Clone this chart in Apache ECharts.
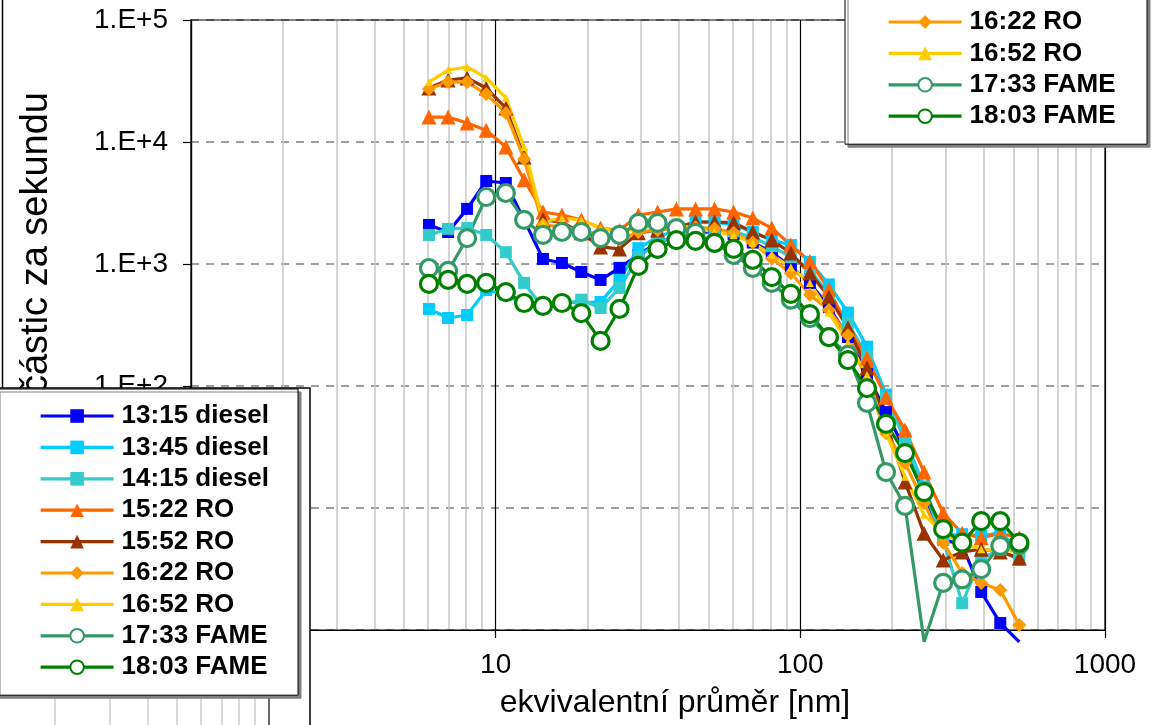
<!DOCTYPE html>
<html><head><meta charset="utf-8">
<script src="https://cdn.jsdelivr.net/npm/echarts@6/dist/echarts.min.js"></script>
<style>html,body{margin:0;padding:0;background:#fff}#c{width:1158px;height:725px}</style>
</head><body><div id="c"></div>
<script>
// ---- data ----
const diameters = [6.04, 6.98, 8.06, 9.31, 10.8, 12.4, 14.3, 16.5, 19.1, 22.1, 25.5, 29.4, 34.0, 39.2, 45.3, 52.3, 60.4, 69.8, 80.6, 93.1, 107.5, 124.1, 143.3, 165.5, 191.1, 220.7, 254.8, 294.3, 339.8, 392.4, 453.2, 523.3];
const seriesNames = ['13:15 diesel', '13:45 diesel', '14:15 diesel', '15:22 RO', '15:52 RO', '16:22 RO', '16:52 RO', '17:33 FAME', '18:03 FAME'];
const d1315 = [2090, 1830, 2830, 4790, 4610, 2300, 1100, 1020, 860, 740, 930, 1190, 1500, 1700, 1800, 1850, 1750, 1500, 1250, 944, 700, 445, 252, 125, 61, 30, 13, 5.5, 5.0, 2.05, 1.14, 0.8];
const d1345 = [428, 361, 382, 612, 560, 460, 445, 489, 480, 489, 740, 1350, 1660, 1900, 2210, 2200, 2100, 1830, 1570, 1430, 1040, 680, 400, 210, 85, 37, 15, 5.9, 6.1, 5.9, 6.3, 4.5];
const d1415 = [1730, 1940, 1970, 1730, 1250, 700, 436, 462, 510, 436, 636, 1140, 1500, 1700, 1850, 1900, 1850, 1650, 1400, 1140, 900, 560, 330, 175, 80, 36, 14, 5.5, 1.66, 3.9, 4.5, 3.75];
const d1522 = [16000, 16000, 14300, 12500, 9100, 4900, 2670, 2520, 2300, 1970, 1880, 2520, 2670, 2830, 2830, 2830, 2670, 2380, 1970, 1430, 1050, 620, 300, 170, 81, 43.5, 19.7, 9.1, 6.2, 5.7, 6.2, 5.7];
const d1552 = [27700, 32200, 33500, 27700, 19000, 7540, 2300, 2200, 1800, 1380, 1330, 1800, 1900, 2000, 2210, 2210, 2180, 1830, 1570, 1230, 843, 537, 299, 141, 50, 16.3, 6.2, 3.75, 4.36, 4.6, 4.36, 3.9];
const d1622 = [27200, 31000, 31000, 24700, 17300, 7260, 2100, 2000, 1900, 1730, 1570, 1830, 1900, 1950, 2000, 1950, 1800, 1500, 1110, 840, 560, 420, 260, 110, 41, 23.4, 11, 5.2, 2.93, 2.43, 2.13, 1.1];
const d1652 = [31000, 38900, 41200, 33500, 23000, 9100, 2210, 2380, 2300, 1970, 1830, 1970, 2070, 2070, 1970, 1830, 1730, 1490, 1190, 940, 700, 400, 227, 123, 41, 18, 8.8, 6.2, 5.2, 4.6, 4.4, 4.5];
const d1733 = [927, 877, 1630, 3540, 3820, 2300, 1730, 1830, 1830, 1630, 1730, 2170, 2170, 1970, 1800, 1490, 1190, 930, 700, 510, 360, 252, 180, 72.6, 19.7, 10.4, 0.8, 2.43, 2.6, 3.16, 4.9, 5.0];
const d1803 = [686, 740, 686, 700, 589, 479, 453, 479, 396, 234, 428, 964, 1330, 1570, 1550, 1490, 1330, 1080, 782, 568, 389, 252, 163, 96, 48.9, 28.2, 13.5, 6.7, 5.2, 7.8, 7.8, 5.2];
const xTitle = 'ekvivalentní průměr [nm]';
const yTitle = 'počet částic za sekundu';

// ---- styles ----
const values = [d1315, d1345, d1415, d1522, d1552, d1622, d1652, d1733, d1803];
const colors = ['#0000FF', '#00CCFF', '#33CCCC', '#FF6600', '#993300', '#FF9900', '#FFCC00', '#339966', '#008000'];
const symbols = ['rect', 'rect', 'rect', 'triangle', 'triangle', 'diamond', 'triangle', 'circle', 'circle'];
const sizes = [12, 12, 12, 15, 15, 14, 8, 17, 17];
const hollow = [false, false, false, false, false, false, false, true, true];
const LINE_W = 3.2;

const FONT = '"Liberation Sans", Arial, sans-serif';

const series = seriesNames.map((name, k) => ({
  type: 'line',
  name: name,
  data: diameters.map((x, i) => [x, values[k][i]]),
  symbol: symbols[k],
  symbolSize: (v) => (v[1] < 1 ? 0 : sizes[k]),
  showSymbol: true,
  clip: false,
  z: 2,
  color: colors[k],
  lineStyle: { color: colors[k], width: LINE_W, type: 'solid', opacity: 1 },
  itemStyle: hollow[k] ? { color: '#ffffff', borderColor: colors[k], borderWidth: 3.2 } : { color: colors[k], borderWidth: 0 },
  emphasis: { disabled: true, scale: false },
  animation: false
}));

const legendCommon = {
  orient: 'vertical', align: 'left', selectedMode: false,
  data: seriesNames,
  itemWidth: 73, itemHeight: 17, itemGap: 5.4,
  backgroundColor: '#ffffff', borderColor: '#000000', borderWidth: 1,
  shadowColor: '#808080', shadowOffsetX: 3, shadowOffsetY: 3, shadowBlur: 0,
  lineStyle: { width: LINE_W },
  textStyle: { fontFamily: FONT, fontWeight: 'bold', fontSize: 26, lineHeight: 26, color: '#000', padding: [0, 0, 0, 3] },
  z: 4
};

// background grid lines of the pasted panel (decoration)
const bgX = [55, 110, 148, 177, 201, 222, 239, 255];
const bgLines = bgX.map(x => ({ type: 'line', z: 3, silent: true, shape: { x1: x, y1: 697, x2: x, y2: 725 }, style: { stroke: '#cccccc', lineWidth: 1.5 } }));
bgLines.push({ type: 'line', z: 3, silent: true, shape: { x1: 269, y1: 697, x2: 269, y2: 725 }, style: { stroke: '#000', lineWidth: 1.2 } });

const chart = echarts.init(document.getElementById('c'), null, { renderer: 'canvas' });
chart.setOption({
  animation: false,
  backgroundColor: '#ffffff',
  grid: { left: 191, top: 20, right: 53, bottom: 95, show: true, z: 1, borderColor: '#000', borderWidth: 1.2, backgroundColor: 'transparent' },
  xAxis: {
    type: 'log', logBase: 10, min: 1, max: 1000,
    name: xTitle, nameLocation: 'middle', nameGap: 57,
    nameTextStyle: { fontFamily: FONT, fontSize: 32, color: '#000', padding: [0, 0, 0, 54] },
    axisLine: { show: true, lineStyle: { color: '#000', width: 1.2 } },
    axisTick: { show: true, length: 8, lineStyle: { color: '#000', width: 1.2 } },
    axisLabel: { fontFamily: FONT, fontSize: 28, lineHeight: 28, color: '#000', margin: 21,
      formatter: (v) => String(Math.round(v)) },
    splitLine: { show: true, lineStyle: { color: '#000', width: 1.2 } },
    minorTick: { show: false, splitNumber: 9 },
    minorSplitLine: { show: true, lineStyle: { color: '#c8c8c8', width: 1.5 } }
  },
  yAxis: {
    type: 'log', logBase: 10, min: 1, max: 100000,
    axisLine: { show: true, lineStyle: { color: '#000', width: 1.2 } },
    axisTick: { show: true, length: 8, lineStyle: { color: '#000', width: 1.2 } },
    axisLabel: { fontFamily: FONT, fontSize: 28, color: '#000', margin: 23,
      formatter: (v) => '1.E+' + Math.round(Math.log10(v)) },
    splitLine: { show: true, lineStyle: { color: '#808080', width: 1.5, type: [8, 7] } }
  },
  legend: [
    Object.assign({}, legendCommon, { left: 845, top: -162, padding: [14, 30, 15, 42] }),
    Object.assign({}, legendCommon, { left: -3, top: 389, padding: [14, 29, 15, 42] })
  ],
  graphic: [
    { type: 'text', z: 1, silent: true, x: 37, y: 92, rotation: Math.PI / 2,
      style: { text: yTitle, font: '38px ' + FONT, fill: '#000', align: 'right', verticalAlign: 'middle' } },
    { type: 'line', z: 1, silent: true, shape: { x1: 2.5, y1: 0, x2: 2.5, y2: 388 }, style: { stroke: '#000', lineWidth: 1.5 } },
    { type: 'rect', z: 3, silent: true, shape: { x: -10, y: 388, width: 320, height: 360 }, style: { fill: '#ffffff', stroke: '#000', lineWidth: 1.5 } }
  ].concat(bgLines),
  series: series
});
</script>
</body></html>
